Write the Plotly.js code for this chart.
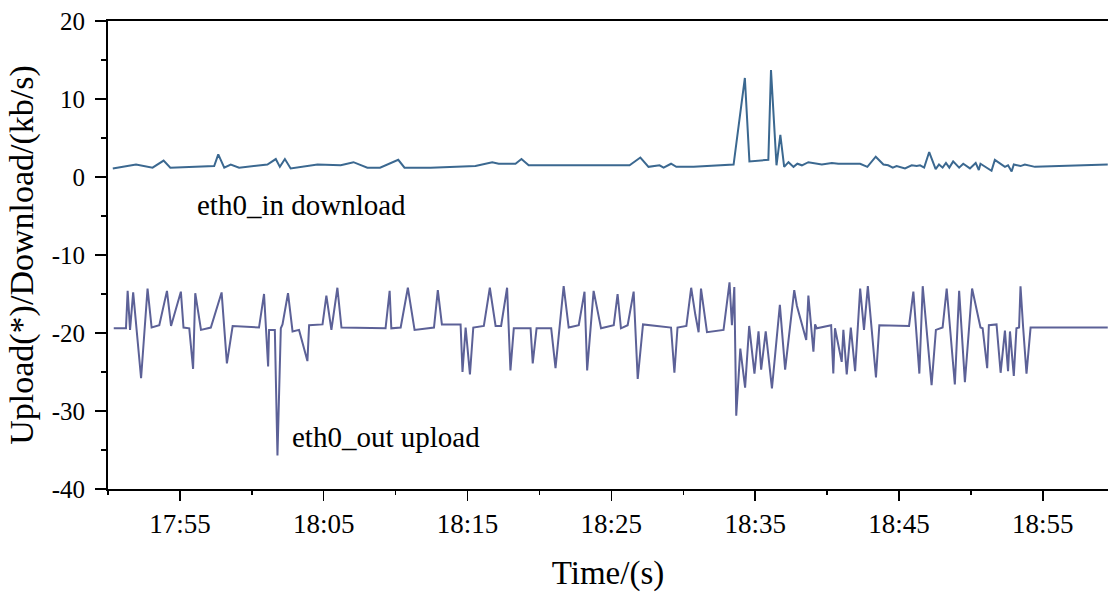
<!DOCTYPE html>
<html>
<head>
<meta charset="utf-8">
<script src="https://cdn.plot.ly/plotly-3.0.1.min.js"></script>
<style>html,body{margin:0;padding:0;background:#fff;}#chart{width:1108px;height:594px;}</style>
</head>
<body>
<div id="chart"></div>
<script>
// Download (eth0_in) series
const downTime = ["17:50:20","17:51:57","17:53:06","17:53:52","17:54:20","17:57:23","17:57:40","17:58:05","17:58:32","17:59:07",
"18:01:05","18:01:40","18:01:57","18:02:18","18:02:42","18:04:34","18:06:11","18:07:04","18:08:02","18:08:55",
"18:10:11","18:10:37","18:12:26","18:15:33","18:16:43","18:17:10","18:18:20","18:18:45","18:19:15","18:26:16",
"18:27:01","18:27:35","18:28:21","18:28:38","18:29:09","18:29:31","18:30:43","18:33:30","18:34:17","18:34:36",
"18:35:55","18:36:06","18:36:29","18:36:45","18:37:01","18:37:19","18:37:40","18:37:56","18:38:15","18:38:42",
"18:39:38","18:40:20","18:40:47","18:42:18","18:42:48","18:43:23","18:43:55","18:44:15","18:44:34","18:44:50",
"18:45:25","18:45:53","18:46:14","18:46:28","18:46:45","18:47:06","18:47:33","18:47:47","18:48:02","18:48:16",
"18:48:30","18:48:46","18:49:11","18:49:28","18:49:56","18:50:20","18:50:33","18:50:40","18:51:26","18:51:40",
"18:52:22","18:52:35","18:52:50","18:52:59","18:53:27","18:53:45","18:54:27","18:59:31"];
const downValue = [1.1,1.6,1.2,2.1,1.2,1.4,2.9,1.2,1.6,1.2,
1.6,2.3,1.3,2.3,1.1,1.6,1.5,1.9,1.2,1.2,
2.2,1.2,1.2,1.4,1.9,1.7,1.7,2.3,1.5,1.5,
2.5,1.3,1.5,1.2,1.7,1.3,1.3,1.6,12.7,2.0,
2.2,13.7,1.5,5.4,1.3,1.9,1.3,1.7,1.5,1.9,
1.6,1.8,1.7,1.7,1.3,2.6,1.6,1.5,1.2,1.4,
1.1,1.5,1.4,1.5,1.2,3.2,1.0,1.6,1.2,1.8,
1.2,2.0,1.2,1.7,1.1,1.8,0.9,1.7,0.8,2.2,
1.3,1.5,0.7,1.6,1.4,1.6,1.3,1.6];

// Upload (eth0_out) series, drawn negative
const upTime = ["17:50:24","17:51:15","17:51:22","17:51:32","17:51:45","17:52:18","17:52:45","17:53:02","17:53:34","17:54:06",
"17:54:23","17:55:04","17:55:15","17:55:39","17:55:55","17:56:04","17:56:28","17:57:09","17:57:54","17:58:16",
"17:58:40","18:00:30","18:00:51","18:01:08","18:01:12","18:01:36","18:01:47","18:02:01","18:02:08","18:02:31",
"18:02:50","18:03:17","18:03:52","18:03:59","18:04:55","18:05:11","18:05:32","18:05:57","18:06:14","18:09:18",
"18:09:35","18:09:42","18:10:21","18:10:51","18:11:19","18:12:40","18:12:56","18:13:13","18:14:31","18:14:39",
"18:14:52","18:15:10","18:15:24","18:16:08","18:16:33","18:16:57","18:17:20","18:17:45","18:17:59","18:18:13",
"18:19:23","18:19:32","18:19:48","18:20:49","18:21:07","18:21:41","18:22:02","18:22:44","18:23:08","18:23:19",
"18:23:46","18:24:17","18:25:10","18:25:26","18:25:40","18:26:08","18:26:33","18:26:50","18:27:12","18:29:09",
"18:29:23","18:29:36","18:30:13","18:30:33","18:30:50","18:31:04","18:31:14","18:31:39","18:32:48","18:33:13",
"18:33:23","18:33:33","18:33:41","18:33:58","18:34:18","18:34:35","18:34:57","18:35:14","18:35:25","18:35:44",
"18:36:10","18:36:43","18:37:05","18:37:43","18:37:54","18:38:33","18:38:42","18:39:03","18:39:10","18:39:17",
"18:40:17","18:40:26","18:40:33","18:41:01","18:41:08","18:41:22","18:41:39","18:41:57","18:42:18","18:42:34",
"18:42:50","18:43:24","18:43:38","18:45:42","18:46:00","18:46:25","18:46:39","18:47:16","18:47:34","18:48:02",
"18:48:19","18:48:53","18:49:11","18:49:35","18:50:05","18:50:40","18:50:49","18:51:08","18:51:15","18:51:47",
"18:52:04","18:52:22","18:52:35","18:52:43","18:52:59","18:53:10","18:53:21","18:53:27","18:53:38","18:53:52",
"18:54:09","18:59:31"];
const upValue = [-19.4,-19.4,-14.6,-19.6,-14.8,-25.8,-14.3,-19.3,-19.0,-14.6,
-19.1,-14.7,-19.3,-19.4,-24.6,-14.9,-19.6,-19.3,-14.8,-23.9,
-19.1,-19.3,-15.0,-24.3,-19.6,-19.6,-35.7,-19.4,-18.9,-14.9,
-19.8,-19.6,-23.6,-19.0,-18.9,-15.2,-19.6,-14.2,-19.3,-19.4,
-14.6,-19.4,-19.3,-14.2,-19.6,-19.3,-14.5,-18.9,-18.9,-25.0,
-19.3,-25.3,-19.3,-19.1,-14.2,-19.1,-19.1,-14.2,-24.8,-19.4,
-19.4,-23.9,-19.4,-19.4,-24.5,-14.0,-19.3,-19.0,-14.7,-24.8,
-14.6,-19.4,-19.0,-15.0,-19.4,-19.0,-14.7,-25.9,-18.9,-19.3,
-25.1,-19.3,-19.1,-14.2,-17.6,-19.9,-14.3,-19.9,-19.6,-13.5,
-19.0,-14.1,-30.6,-22.0,-27.0,-19.1,-25.2,-19.8,-24.7,-19.8,
-27.1,-16.4,-24.7,-14.5,-16.5,-20.9,-15.2,-22.4,-18.9,-19.4,
-19.0,-25.2,-19.4,-23.7,-19.6,-25.3,-19.3,-24.9,-14.3,-19.6,
-14.0,-25.7,-19.0,-19.1,-14.7,-25.2,-14.0,-26.7,-19.6,-19.3,
-14.3,-26.6,-14.6,-26.3,-14.3,-19.3,-19.4,-24.5,-19.0,-18.9,
-25.1,-19.7,-24.9,-19.8,-25.5,-19.4,-19.3,-14.0,-19.3,-25.2,
-19.3,-19.3];

const yTickVals = [-40, -30, -20, -10, 0, 10, 20];
const yTickText = ["-40", "-30", "-20", "-10", "0", "10", "20"];
const seriesNames = ["eth0_in download", "eth0_out upload"];
const xTitle = "Time/(s)";
const yTitle = "Upload(*)/Download/(kb/s)";

const day = "2000-01-01 ";
const toDate = t => day + t;
const FONT = "Liberation Serif";
const X_RANGE = [day + "17:50:00", day + "18:59:32"];
const Y_RANGE = [-40, 20];

const traces = [
  {x: downTime.map(toDate), y: downValue, mode: "lines", name: seriesNames[0],
   line: {color: "#3b6890", width: 2}},
  {x: upTime.map(toDate), y: upValue, mode: "lines", name: seriesNames[1],
   line: {color: "#5c6197", width: 2}}
];

const layout = {
  width: 1108, height: 594,
  margin: {l: 108, r: 0, t: 21, b: 105},
  paper_bgcolor: "#fff", plot_bgcolor: "#fff",
  showlegend: false,
  font: {family: FONT, color: "#000", size: 26},
  xaxis: {
    type: "date", range: X_RANGE,
    tick0: day + "17:55:00", dtick: 600000, tickformat: "%H:%M",
    ticks: "outside", ticklen: 10, tickwidth: 1.5, tickcolor: "#000",
    showline: true, linecolor: "#000", linewidth: 2, mirror: true,
    showgrid: false, zeroline: false,
    tickfont: {family: FONT, size: 27, color: "#000"},
    title: {text: xTitle, font: {family: FONT, size: 33, color: "#000"}, standoff: 22},
    automargin: false
  },
  xaxis2: {
    type: "date", range: X_RANGE, overlaying: "x", anchor: "y", side: "bottom",
    tick0: day + "17:55:00", dtick: 300000,
    ticks: "outside", ticklen: 5, tickwidth: 1.5, tickcolor: "#000",
    showticklabels: false, showline: false, showgrid: false, zeroline: false,
    automargin: false
  },
  yaxis: {
    range: Y_RANGE, tickmode: "array", tickvals: yTickVals, ticktext: yTickText,
    ticks: "outside", ticklen: 11, tickwidth: 1.5, tickcolor: "#000",
    ticklabelstandoff: 5,
    showline: true, linecolor: "#000", linewidth: 2,
    showgrid: false, zeroline: false,
    tickfont: {family: FONT, size: 25, color: "#000"},
    title: {text: yTitle, font: {family: FONT, size: 34, color: "#000"}, standoff: 8},
    automargin: false
  },
  yaxis2: {
    range: Y_RANGE, overlaying: "y", anchor: "x", side: "left",
    tick0: 0, dtick: 5,
    ticks: "outside", ticklen: 6, tickwidth: 1.5, tickcolor: "#000",
    showticklabels: false, showline: false, showgrid: false, zeroline: false,
    automargin: false
  },
  annotations: [
    {text: seriesNames[0], xref: "paper", yref: "y", x: 0.087, y: -3.6, xanchor: "left", yanchor: "middle",
     showarrow: false, font: {family: FONT, size: 29, color: "#000"}},
    {text: seriesNames[1], xref: "paper", yref: "y", x: 0.182, y: -33.3, xanchor: "left", yanchor: "middle",
     showarrow: false, font: {family: FONT, size: 29, color: "#000"}}
  ]
};

// invisible helper trace so the minor-tick overlay axes are drawn
traces.push({x: X_RANGE, y: Y_RANGE, xaxis: "x2", yaxis: "y2", mode: "lines",
  line: {width: 0, color: "rgba(0,0,0,0)"}, hoverinfo: "skip", showlegend: false});

Plotly.newPlot("chart", traces, layout, {displayModeBar: false, staticPlot: true});
</script>
</body>
</html>
